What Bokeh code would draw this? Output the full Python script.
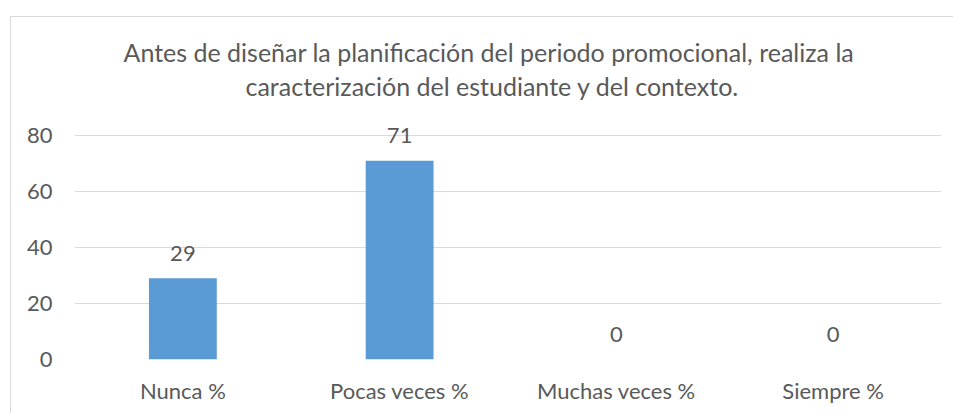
from bokeh.plotting import figure
from bokeh.models import ColumnDataSource, Range1d, FixedTicker, Title
from bokeh.core.properties import value
from bokeh.embed import file_html
from bokeh.resources import INLINE

categories = ["Nunca %", "Pocas veces %", "Muchas veces %", "Siempre %"]
values = [29, 71, 0, 0]
y_ticks = [0, 20, 40, 60, 80]
title_lines = [
    "Antes de diseñar la planificación del periodo promocional, realiza la",
    "caracterización del estudiante y del contexto.",
]

FONT = "Lato"
TXT = "#595959"
GRID = "#D9D9D9"
BAR = "#5B9BD5"

src = ColumnDataSource(dict(cat=categories, val=values, lab=[str(v) for v in values]))

p = figure(
    x_range=categories,
    y_range=Range1d(0, 92.5),
    width=943, height=397,
    min_border_left=63, min_border_right=13,
    min_border_top=83, min_border_bottom=55,
    output_backend="svg", toolbar_location=None,
)
p.styles = {"margin-left": "10px", "margin-top": "16px",
            "border-left": "1px solid #D9D9D9", "border-top": "1px solid #D9D9D9"}
p.outline_line_color = None
p.background_fill_color = "white"
p.border_fill_color = "white"

p.vbar(x="cat", top="val", width=0.313, source=src, fill_color=BAR, line_color=None)
p.text(x="cat", y="val", text="lab", source=src, text_align="center",
       text_baseline="middle", y_offset=-25, text_color=TXT,
       text_font=value(FONT), text_font_size="22px")

p.yaxis.ticker = FixedTicker(ticks=y_ticks)
p.ygrid.ticker = FixedTicker(ticks=y_ticks)
p.ygrid.grid_line_color = GRID
p.xgrid.grid_line_color = None
for ax in (p.xaxis, p.yaxis):
    ax.axis_line_color = None
    ax.major_tick_line_color = None
    ax.minor_tick_line_color = None
    ax.major_tick_in = 0
    ax.major_tick_out = 0
    ax.major_label_text_color = TXT
    ax.major_label_text_font = FONT
    ax.major_label_text_font_size = "22px"
p.yaxis.major_label_standoff = 22
p.xaxis.major_label_standoff = 17

for t, off, so in [(title_lines[1], 171, 0), (title_lines[0], 49, 4)]:
    p.add_layout(Title(text=t, align="left", offset=off, text_color=TXT,
                       text_font=FONT, text_font_size="25px",
                       text_font_style="normal", standoff=so), "above")

open("out.html", "w").write(file_html(p, INLINE))
